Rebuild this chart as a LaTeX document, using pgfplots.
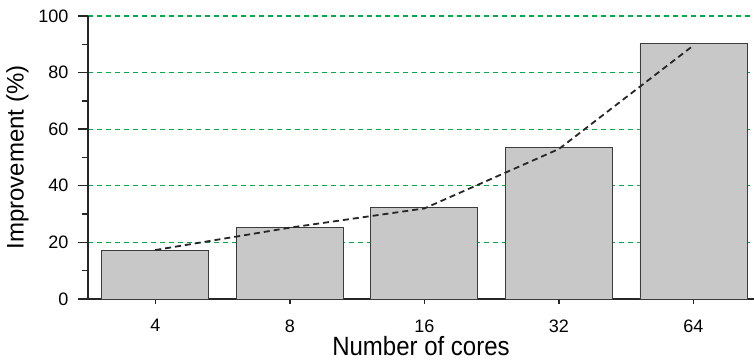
\documentclass[border=0pt]{standalone}
\usepackage{pgfplots}
\pgfplotsset{compat=1.18}
\usepackage{fontspec}
\setmainfont{Liberation Sans}
\definecolor{gridgreen}{RGB}{0,170,70}
\definecolor{barfill}{RGB}{200,200,200}
\definecolor{baredge}{RGB}{60,60,60}
\begin{document}
\begin{tikzpicture}[x=1pt,y=1pt]
\begin{axis}[
  at={(0,0)}, anchor=south west,
  scale only axis,
  width=666pt, height=283pt,
  xmin=-0.5, xmax=4.45,
  ymin=0, ymax=100,
  axis x line*=bottom, axis y line*=left,
  axis line style={line width=2pt, color=black!85},
  xtick={0,1,2,3,4},
  xticklabels={4,8,16,32,64},
  ytick={0,20,40,60,80,100},
  minor ytick={10,30,50,70,90},
  tick align=outside,
  tick style={line width=1.4pt, color=black!85},
  major tick length=10pt,
  minor tick length=6pt,
  xtick style={/pgfplots/major tick length=5pt},
  ymajorgrids=true,
  major grid style={dash pattern=on 5pt off 4pt, color=gridgreen, line width=1.2pt},
  tick label style={font=\fontsize{18}{20}\selectfont},
  /pgf/number format/assume math mode=true,
  xticklabel style={yshift=-7pt},
  yticklabel style={xshift=-6pt},
  xlabel={\scalebox{1}[1.1]{Number of cores}},
  ylabel={Improvement (\%)},
  every axis x label/.style={at={(axis description cs:0.5,0)}, anchor=center, yshift=-47pt, font=\fontsize{24}{26}\selectfont},
  every axis y label/.style={at={(axis description cs:-0.106,0.5)}, rotate=90, anchor=center, font=\fontsize{24}{26}\selectfont},
  clip=false,
]
\addplot[ybar, bar width=107pt, fill=barfill, draw=baredge, line width=0.9pt, bar shift=0pt]
  coordinates {(0,17.3) (1,25.4) (2,32.2) (3,53.5) (4,90.2)};
\addplot[sharp plot, dash pattern=on 6pt off 4pt, line width=1.8pt, color=black!85, mark=none]
  coordinates {(0,17.3) (1,25.2) (2,32.0) (3,53.0) (4,89.6)};
\end{axis}
\pgfresetboundingbox
\useasboundingbox (-88pt,-64pt) rectangle (666pt,299pt);
\end{tikzpicture}
\end{document}
